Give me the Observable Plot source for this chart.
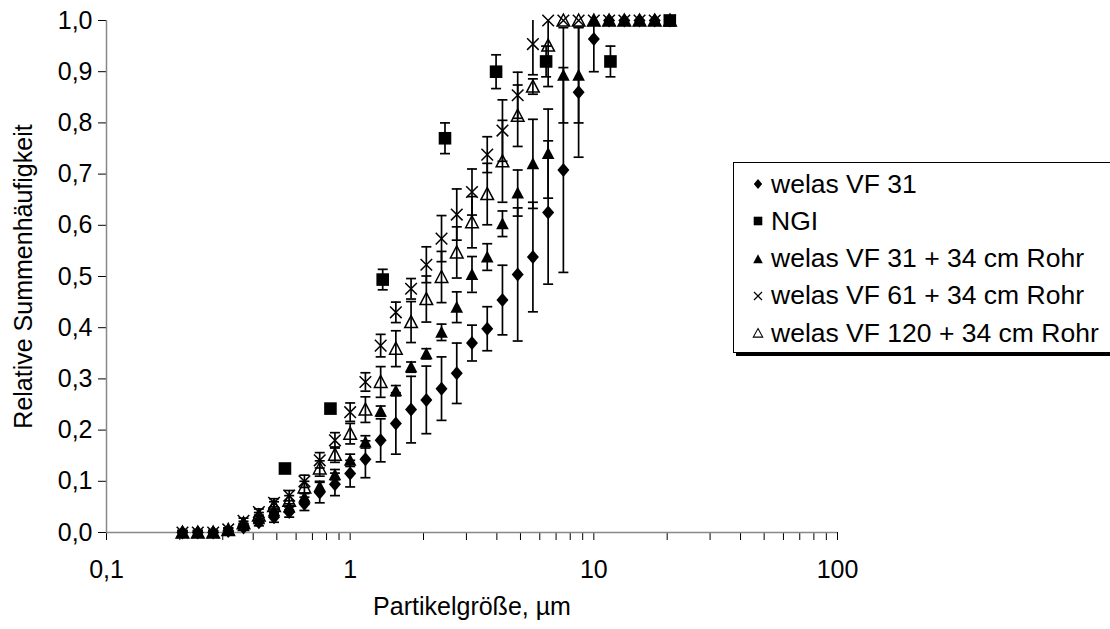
<!DOCTYPE html>
<html><head><meta charset="utf-8">
<script src="https://cdn.jsdelivr.net/npm/d3@7"></script>
<script src="https://cdn.jsdelivr.net/npm/@observablehq/plot@0.6"></script>
<style>
body{margin:0;background:#fff;}
#wrap{position:relative;width:1110px;height:629px;overflow:hidden;font-family:"Liberation Sans",Arial,sans-serif;background:#fff;}
#legend{position:absolute;left:733px;top:162px;width:385px;height:189px;border:1px solid #000;box-shadow:3px 3px 0 #000;background:#fff;}
.row{position:absolute;left:18px;height:34px;display:flex;align-items:center;font-size:26.5px;white-space:nowrap;color:#000;}
.row svg{margin-right:7px;}
</style></head><body><div id="wrap"><div id="legend"></div></div>
<script>
// Particle size channels (µm)
const sizes = [0.205,0.237,0.274,0.316,0.365,0.422,0.487,0.562,0.649,0.750,0.866,1.000,1.155,1.334,1.540,1.778,2.054,2.371,2.738,3.162,3.652,4.217,4.870,5.623,6.494,7.499,8.660,10.00,11.55,13.34,15.40,17.78,20.54];

// welas VF 31 (diamonds)
const vf31 = [0,0,0,0.003,0.010,0.020,0.030,0.040,0.056,0.078,0.094,0.115,0.143,0.180,0.213,0.240,0.259,0.281,0.311,0.370,0.398,0.454,0.504,0.538,0.625,0.708,0.860,0.964,1,1,1,1,1];
const vf31Err = [0.003,0.003,0.003,0.003,0.005,0.007,0.010,0.010,0.013,0.020,0.022,0.026,0.036,0.042,0.060,0.065,0.066,0.062,0.059,0.035,0.043,0.068,0.130,0.107,0.140,0.200,0.127,0.064,0,0,0,0,0];

// welas VF 31 + 34 cm Rohr (filled triangles)
const vf31R = [0,0,0,0.004,0.013,0.027,0.042,0.050,0.069,0.090,0.113,0.141,0.177,0.237,0.277,0.323,0.349,0.391,0.440,0.504,0.538,0.603,0.663,0.720,0.740,0.893,0.893,1,1,1,1,1,1];
const vf31RErr = [0.004,0.004,0.004,0.004,0.004,0.004,0.004,0.006,0.008,0.010,0.010,0.012,0.012,0.010,0.010,0.010,0.010,0.016,0.030,0.035,0.026,0.025,0.045,0.087,0.087,0.093,0.093,0,0,0,0,0,0];

// welas VF 61 + 34 cm Rohr (crosses)
const vf61R = [0,0,0,0.006,0.023,0.040,0.058,0.072,0.100,0.141,0.180,0.235,0.294,0.365,0.430,0.476,0.523,0.574,0.621,0.665,0.738,0.785,0.854,0.954,1,1,1,1,1,1,1,1,1];
const vf61RErr = [0.003,0.003,0.003,0.003,0.005,0.006,0.008,0.010,0.012,0.015,0.015,0.018,0.018,0.022,0.020,0.020,0.035,0.045,0.050,0.045,0.035,0.060,0.045,0.060,0,0,0,0,0,0,0,0,0];

// welas VF 120 + 34 cm Rohr (open triangles)
const vf120R = [0,0,0,0.005,0.018,0.033,0.052,0.062,0.088,0.125,0.152,0.193,0.240,0.294,0.359,0.411,0.456,0.499,0.547,0.606,0.661,0.725,0.814,0.871,0.951,1,1,1,1,1,1,1,1];
const vf120RErr = [0.004,0.004,0.004,0.004,0.004,0.006,0.008,0.010,0.012,0.015,0.015,0.020,0.025,0.030,0.035,0.040,0.045,0.050,0.050,0.050,0.060,0.080,0.060,0.015,0.080,0,0,0,0,0,0,0,0];

// NGI (squares)
const ngiSizes = [0.54,0.83,1.36,2.45,3.97,6.37,11.7,20.5];
const ngi = [0.125,0.242,0.494,0.770,0.900,0.920,0.920,1.0];
const ngiErr = [0,0,0.020,0.030,0.033,0.030,0.030,0];

const seriesNames = ["welas VF 31","NGI","welas VF 31 + 34 cm Rohr","welas VF 61 + 34 cm Rohr","welas VF 120 + 34 cm Rohr"];

const xMajor = [0.1,1,10,100];
const xTickLabels = ["0,1","1","10","100"];
const yTicks = [0,0.1,0.2,0.3,0.4,0.5,0.6,0.7,0.8,0.9,1.0];
const yTickLabels = ["0,0","0,1","0,2","0,3","0,4","0,5","0,6","0,7","0,8","0,9","1,0"];

const xTitle = "Partikelgröße, µm";
const yTitle = "Relative Summenhäufigkeit";

// symbols
const mk = (f) => ({draw(c){ f(c); }});
const symDiamond = mk(c=>{c.moveTo(0,-7);c.lineTo(6,0);c.lineTo(0,7);c.lineTo(-6,0);c.closePath();});
const symSquare = mk(c=>{c.moveTo(-6.3,-6.3);c.lineTo(6.3,-6.3);c.lineTo(6.3,6.3);c.lineTo(-6.3,6.3);c.closePath();});
const symTri = mk(c=>{c.moveTo(0,-6.5);c.lineTo(6.3,5.5);c.lineTo(-6.3,5.5);c.closePath();});
const symTimes = mk(c=>{c.moveTo(-5.8,-5.8);c.lineTo(5.8,5.8);c.moveTo(5.8,-5.8);c.lineTo(-5.8,5.8);});
const symCap = mk(c=>{c.moveTo(-5,0);c.lineTo(5,0);});

function rows(xs, ys, es){ return xs.map((x,i)=>({x, y: ys[i], e: es[i]})); }

function seriesMarks(data, symbol, style){
  const eb = data.filter(d=>d.e>0);
  return [
    Plot.ruleX(eb, {x:"x", y1:d=>d.y-d.e, y2:d=>d.y+d.e, stroke:"#000", strokeWidth:1.7, clip:true}),
    Plot.dot(eb, {x:"x", y:d=>d.y-d.e, symbol:symCap, r:1, fill:"none", stroke:"#000", strokeWidth:1.7, clip:true}),
    Plot.dot(eb, {x:"x", y:d=>d.y+d.e, symbol:symCap, r:1, fill:"none", stroke:"#000", strokeWidth:1.7, clip:true}),
    Plot.dot(data, {x:"x", y:"y", symbol, r:1, ...style})
  ];
}
const filled = {fill:"#000", stroke:"none"};
const outline = {fill:"none", stroke:"#000", strokeWidth:1.5};

const xAllTicks = [];
for (const d of [0.1,1,10]) for (let m=1;m<10;m++) xAllTicks.push(+(d*m).toPrecision(3));
xAllTicks.push(100);
const xLabelMap = new Map(xMajor.map((v,i)=>[v, xTickLabels[i]]));

const chart = Plot.plot({
  width:1110, height:629,
  marginLeft:106, marginRight:273, marginTop:20, marginBottom:97,
  style:{fontFamily:"'Liberation Sans', Arial, sans-serif", fontSize:"25px", background:"transparent", color:"#000", overflow:"visible"},
  x:{type:"log", domain:[0.1,100]},
  y:{domain:[0,1]},
  marks:[
    Plot.axisY({ticks:yTicks, tickFormat:(d)=>yTickLabels[yTicks.indexOf(d)], tickSize:8, tickPadding:6, label:null, fontSize:25}),
    Plot.axisX({ticks:xAllTicks, tickFormat:d=>xLabelMap.get(d) ?? "", tickSize:8, tickPadding:20, label:null, fontSize:25}),
    Plot.ruleX([0.1], {stroke:"#888", strokeWidth:1.5}),
    Plot.ruleY([0], {stroke:"#888", strokeWidth:1.5}),
    ...seriesMarks(rows(sizes, vf31, vf31Err), symDiamond, filled),
    ...seriesMarks(rows(ngiSizes, ngi, ngiErr), symSquare, filled),
    ...seriesMarks(rows(sizes, vf31R, vf31RErr), symTri, filled),
    ...seriesMarks(rows(sizes, vf61R, vf61RErr), symTimes, outline),
    ...seriesMarks(rows(sizes, vf120R, vf120RErr), symTri, outline),
    Plot.text([yTitle], {frameAnchor:"left", textAnchor:"middle", dx:-83, rotate:-90, fontSize:25}),
    Plot.text([xTitle], {frameAnchor:"bottom", textAnchor:"middle", dy:82, fontSize:25})
  ]
});
chart.style.position = "absolute";
chart.style.left = "0px";
chart.style.top = "0px";
const wrap = document.getElementById("wrap");
wrap.insertBefore(chart, wrap.firstChild);

// legend
const legendSyms = [
  '<path d="M0,-5L4.2,0L0,5L-4.2,0Z" fill="#000"/>',
  '<path d="M-4.3,-4.3H4.3V4.3H-4.3Z" fill="#000"/>',
  '<path d="M0,-4.8L4.8,4.2L-4.8,4.2Z" fill="#000"/>',
  '<path d="M-4,-4L4,4M4,-4L-4,4" stroke="#000" stroke-width="1.2" fill="none"/>',
  '<path d="M0,-4.4L4.7,4.1L-4.7,4.1Z" stroke="#000" stroke-width="1.1" fill="none"/>'
];
const legend = document.getElementById("legend");
seriesNames.forEach((name,i)=>{
  const r = document.createElement("div");
  r.className = "row";
  r.style.top = (21 + i*37.3 - 17) + "px";
  r.innerHTML = `<svg width="12" height="12" viewBox="-6 -6 12 12">${legendSyms[i]}</svg><span>${name}</span>`;
  legend.appendChild(r);
});
</script>
</body></html>
